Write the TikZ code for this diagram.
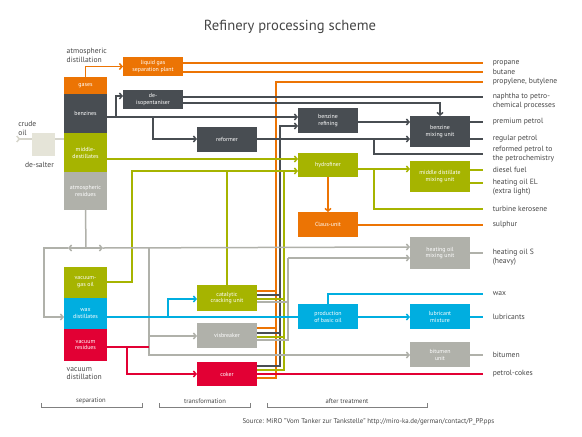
\documentclass[tikz,border=0pt]{standalone}
\usepackage{fontspec}
\setmainfont{PT Sans}
\usetikzlibrary{arrows.meta,positioning}

\definecolor{orng}{RGB}{236,116,4}
\definecolor{dgray}{RGB}{72,77,82}
\definecolor{lgreen}{RGB}{166,180,0}
\definecolor{cyan2}{RGB}{0,174,224}
\definecolor{crim}{RGB}{226,0,52}
\definecolor{lgray}{RGB}{176,177,170}
\definecolor{sand}{RGB}{229,228,216}
\definecolor{txt}{RGB}{70,70,70}

\begin{document}
\begin{tikzpicture}[x=1pt,y=-1pt,line width=1.5pt,
  box/.style={rectangle,minimum width=60pt,minimum height=25pt,inner sep=1pt,outer sep=0pt,
    align=center,text=white,font=\fontsize{5.9}{6.9}\selectfont},
  part/.style={box,minimum width=43pt},
  prod/.style={font=\fontsize{7.6}{8.8}\selectfont,text=txt,align=left,anchor=west,inner sep=0pt},
  note/.style={font=\fontsize{7.6}{8.8}\selectfont,text=txt,align=left,inner sep=0pt},
  phase/.style={font=\fontsize{6.6}{7.6}\selectfont,text=txt,inner sep=0pt},
  arr/.style={-{Straight Barb[length=2.6pt,width=6pt]}},
  ol/.style={draw=orng},
  dl/.style={draw=dgray},
  gl/.style={draw=lgreen},
  bl/.style={draw=cyan2},
  rl/.style={draw=crim},
  sl/.style={draw=lgray},
  cl/.style={draw=sand!85!gray},
  brk/.style={draw=gray,line width=0.8pt}]
\useasboundingbox (0,0) rectangle (582,437);

\node[font=\fontsize{14.6}{16}\selectfont,text=txt] (title) at (290,27) {Refinery processing scheme};

\node[part,fill=orng,minimum height=17pt] (gas) at (85.5,85.5) {gases};
\node[part,fill=dgray,minimum height=39pt,below=0pt of gas] (benz) {benzines};
\node[part,fill=lgreen,minimum height=39pt,below=0pt of benz] (mid) {middle-\\destillates};
\node[part,fill=lgray,minimum height=38pt,below=0pt of mid] (ares) {atmospheric\\residues};
\node[part,fill=lgreen,minimum height=31pt] (vgo) at (85.5,282.5) {vacuum-\\gas oil};
\node[part,fill=cyan2,minimum height=31pt,below=0pt of vgo] (wax) {wax\\distillates};
\node[part,fill=crim,minimum height=32pt,below=0pt of wax] (vres) {vacuum\\residues};

\node[box,fill=sand,minimum width=23pt,minimum height=23pt] (salt) at (43.5,144.5) {};
\node[box,fill=orng,minimum height=19pt] (lgas) at (153,66.5) {liquid gas\\separation plant};
\node[box,fill=dgray,minimum height=19pt] (deiso) at (153,99.5) {de-\\isopentaniser};
\node[box,fill=dgray] (reform) at (227,139.5) {reformer};
\node[box,fill=dgray] (bref) at (328,120.5) {benzine\\refining};
\node[box,fill=lgreen,minimum height=24pt] (hydro) at (328,165) {hydrofiner};
\node[box,fill=orng] (claus) at (328,224.5) {Claus-unit};
\node[box,fill=dgray,minimum height=31pt] (bmix) at (440,131.5) {benzine\\mixing unit};
\node[box,fill=lgreen,minimum height=31pt] (mdmix) at (440,176.5) {middle distillate\\mixing unit};
\node[box,fill=lgray,minimum height=32pt] (hmix) at (440,253) {heating oil\\mixing unit};
\node[box,fill=lgreen,minimum height=26pt] (crack) at (227,298) {catalytic\\cracking unit};
\node[box,fill=lgray] (visb) at (227,335.5) {visbreaker};
\node[box,fill=crim,minimum height=24pt] (coker) at (227,374) {coker};
\node[box,fill=cyan2] (basic) at (328,316.5) {production\\of basic oil};
\node[box,fill=cyan2] (lub) at (440,316.5) {lubricant\\mixture};
\node[box,fill=lgray] (bit) at (440,354.5) {bitumen\\unit};

\node[note,anchor=west] (crude) at (17.5,128) {crude\\oil};
\node[note] (saltlbl) at (39.5,165) {de-salter};
\node[note,anchor=west] (atmlbl) at (66,55) {atmospheric\\distillation};
\node[note,anchor=west] (vaclbl) at (66,373.5) {vacuum\\distillation};

\coordinate (p_1) at (483,63);
\coordinate (p_2) at (483,72);
\coordinate (p_3) at (483,82);
\coordinate (p_4) at (483,97);
\coordinate (p_5) at (483,122);
\coordinate (p_6) at (483,139);
\coordinate (p_7) at (483,154);
\coordinate (p_8) at (483,170);
\coordinate (p_9) at (483,183);
\coordinate (p_10) at (483,209);
\coordinate (p_11) at (483,225);
\coordinate (p_12) at (483,253);
\coordinate (p_13) at (483,294);
\coordinate (p_14) at (483,317);
\coordinate (p_15) at (483,355);
\coordinate (p_16) at (483,374);
\node[prod,right=9pt of p_1] (P_1) {propane};
\node[prod,right=9pt of p_2] (P_2) {butane};
\node[prod,right=9pt of p_3] (P_3) {propylene, butylene};
\node[prod,right=9pt of p_4,yshift=-4pt] (P_4) {naphtha to petro-\\chemical processes};
\node[prod,right=9pt of p_5] (P_5) {premium petrol};
\node[prod,right=9pt of p_6] (P_6) {regular petrol};
\node[prod,right=9pt of p_7] (P_7) {reformed petrol to\\the petrochemistry};
\node[prod,right=9pt of p_8] (P_8) {diesel fuel};
\node[prod,right=9pt of p_9,yshift=-4pt] (P_9) {heating oil EL\\(extra light)};
\node[prod,right=9pt of p_10] (P_10) {turbine kerosene};
\node[prod,right=9pt of p_11] (P_11) {sulphur};
\node[prod,right=9pt of p_12,yshift=-4pt] (P_12) {heating oil S\\(heavy)};
\node[prod,right=9pt of p_13] (P_13) {wax};
\node[prod,right=9pt of p_14] (P_14) {lubricants};
\node[prod,right=9pt of p_15] (P_15) {bitumen};
\node[prod,right=9pt of p_16] (P_16) {petrol-cokes};

\coordinate (c_0) at (16,139);
\coordinate (j_b1) at (116,117);
\coordinate (j_b2) at (153,117);
\coordinate (j_r) at (374,139);
\coordinate (j_h) at (374,169);
\coordinate (j_v) at (132,171);
\coordinate (j_a) at (86,248);
\coordinate (j_al) at (68,248);
\coordinate (j_ar) at (103,248);
\coordinate (j_l) at (44,248);
\coordinate (j_g) at (149,248);
\coordinate (j_red) at (127,347);
\coordinate (j_w) at (168,317);
\coordinate (busO) at (276,82);
\coordinate (busD) at (280,126);
\coordinate (busG) at (284,171);
\coordinate (busL) at (288,258);

\draw[cl,{Straight Barb[reversed,length=2.6pt,width=6pt]}-] (c_0) -- (salt.west |- c_0);
\draw[cl] (salt.east |- c_0) -- (mid.west |- c_0);

\draw[ol,arr] (gas.north) |- (lgas.west);
\draw[ol] (lgas.east |- p_1) -- (p_1);
\draw[ol] (lgas.east |- p_2) -- (p_2);
\draw[ol] (crack.east |- 0,291) -| (busO) -- (p_3);
\draw[ol] (visb.east |- 0,328) -| (busO);
\draw[ol] (coker.east |- 0,378) -| (busO);
\draw[ol,arr] (hydro) -- (claus);
\draw[ol] (claus.east |- p_11) -- (p_11);

\draw[dl,arr] (benz.east |- j_b1) -- (bref.west |- j_b1);
\draw[dl,arr] (j_b1) |- (deiso.west |- 0,96);
\draw[dl,arr] (j_b2) |- (reform.west |- 0,139);
\draw[dl] (deiso.east |- p_4) -- (p_4);
\draw[dl,arr] (deiso.east |- 0,103) -| (bmix.north);
\draw[dl,arr] (bref.east |- 0,122) -- (bmix.west |- 0,122);
\draw[dl,arr] (reform.east |- 0,139) -- (bmix.west |- 0,139);
\draw[dl] (j_r) |- (p_7);
\draw[dl] (bmix.east |- p_5) -- (p_5);
\draw[dl] (bmix.east |- p_6) -- (p_6);
\draw[dl,arr] (crack.east |- 0,295) -| (busD) -- (bref.west |- busD);
\draw[dl] (visb.east |- 0,333) -| (busD);
\draw[dl] (coker.east |- 0,366) -| (busD);

\draw[gl,arr] (mid.east |- 0,159) -- (hydro.west |- 0,159);
\draw[gl,arr] (vgo.east |- 0,282) -| (j_v) -- (hydro.west |- j_v);
\draw[gl] (crack.north |- j_v) -- (crack.north);
\draw[gl] (crack.east |- 0,299) -| (busG);
\draw[gl] (visb.east |- 0,337) -| (busG);
\draw[gl] (coker.east |- 0,370) -| (busG);
\draw[gl,arr] (hydro.east |- j_h) -- (mdmix.west |- j_h);
\draw[gl] (j_h) |- (p_10);
\draw[gl] (mdmix.east |- p_8) -- (p_8);
\draw[gl] (mdmix.east |- p_9) -- (p_9);

\draw[sl] (ares.south) -- (j_a);
\draw[sl,arr] (j_a) -- (j_al);
\draw[sl,arr] (j_al) -- (j_l) |- (wax.west |- 0,317);
\draw[sl,arr] (j_a) -- (j_ar);
\draw[sl,arr] (j_ar) -- (hmix.west |- 0,247);
\draw[sl,arr] (j_g) |- (bit.west |- 0,355);
\draw[sl,arr] (j_g |- 0,336) -- (visb.west |- 0,336);
\draw[sl] (crack.east |- 0,302) -| (busL);
\draw[sl] (visb.east |- 0,340) -| (busL);
\draw[sl,arr] (busL) -- (hmix.west |- busL);
\draw[sl] (hmix.east |- p_12) -- (p_12);
\draw[sl] (bit.east |- p_15) -- (p_15);

\draw[rl] (vres.east |- 0,347) -- (j_g |- 0,347);
\draw[rl,arr] (j_red) |- (coker.west |- 0,374);
\draw[rl] (coker.east |- p_16) -- (p_16);

\draw[bl] (wax.east |- 0,317) -- (basic.west |- 0,317);
\draw[bl,arr] (j_w) |- (crack.west |- 0,299);
\draw[bl,arr] (basic.east |- 0,317) -- (lub.west |- 0,317);
\draw[bl] (lub.east |- p_14) -- (p_14);
\draw[bl] (basic.north) |- (p_13);

\node[phase] (sep) at (91,401) {separation};
\node[phase] (trans) at (205,401) {transformation};
\node[phase] (after) at (347,401) {after treatment};
\draw[brk] (41,403) |- (142,407) -- (142,403);
\draw[brk] (159,403) |- (250,407) -- (250,403);
\draw[brk] (267,403) |- (427,407) -- (427,403);
\node[font=\fontsize{6.9}{8}\selectfont,text=txt,anchor=east,inner sep=0pt] (src) at (495,422)
  {Source: MiRO "Vom Tanker zur Tankstelle" http://miro-ka.de/german/contact/P\_PP.pps};
\end{tikzpicture}
\end{document}
